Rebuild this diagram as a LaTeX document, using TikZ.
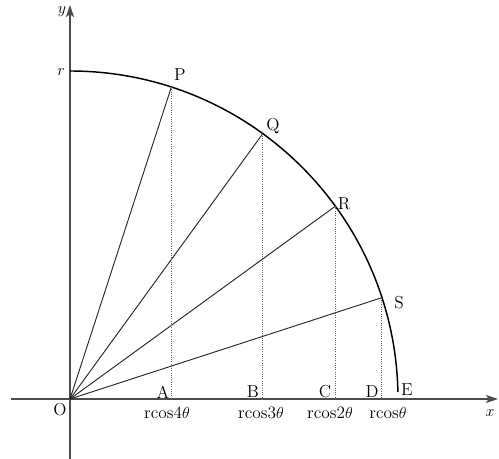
\documentclass[tikz,border=0pt]{standalone}
\usepackage{fontspec}
\usetikzlibrary{arrows.meta}
\begin{document}
\begin{tikzpicture}[x=0.75pt, y=0.75pt, font=\fontsize{13}{15}\selectfont,
    axis/.style={gray!60!black, line width=1pt, -{Stealth[length=9pt, width=6pt, inset=2pt]}},
    ray/.style={gray!30!black, line width=0.7pt},
    drop/.style={gray!80!black, line width=0.7pt, densely dotted},
    lab/.style={inner sep=0pt},
    cosl/.style={inner sep=0pt, font=\fontsize{13}{15}\selectfont\addfontfeature{LetterSpace=6}}]
    \useasboundingbox (-70,-60) rectangle (429,399);
    \coordinate (O) at (0,0);
    \coordinate (xmin) at (-59,0);
    \coordinate (xmax) at (428,0);
    \coordinate (ymin) at (0,-60);
    \coordinate (ymax) at (0,394);
    \coordinate (P) at (72:328);
    \coordinate (Q) at (54:328);
    \coordinate (R) at (36:328);
    \coordinate (S) at (18:328);
    \coordinate (E) at (1.2:328);
    \draw[axis] (xmin) -- (xmax);
    \draw[axis] (ymin) -- (ymax);
    \draw[black, line width=1.1pt] (0,328) arc[start angle=90, end angle=1.2, radius=328];
    \draw[ray] (O) -- (P);
    \draw[ray] (O) -- (Q);
    \draw[ray] (O) -- (R);
    \draw[ray] (O) -- (S);
    \draw[drop] (P) -- (P |- O);
    \draw[drop] (Q) -- (Q |- O);
    \draw[drop] (R) -- (R |- O);
    \draw[drop] (S) -- (S |- O);
    \node[lab] (ylab) at (-8,387) {$y$};
    \node[lab] (xlab) at (420,-14) {$x$};
    \node[lab] (rlab) at (-9,327) {$r$};
    \node[lab] (Olab) at (-10,-11) {O};
    \node[lab] (Plab) at (110,324) {P};
    \node[lab] (Qlab) at (203,273) {Q};
    \node[lab] (Rlab) at (274,195) {R};
    \node[lab] (Slab) at (329,96) {S};
    \node[lab] (Alab) at (93,7) {A};
    \node[lab] (Blab) at (183,7) {B};
    \node[lab] (Clab) at (255,7) {C};
    \node[lab] (Dlab) at (302,7) {D};
    \node[lab] (Elab) at (337,9) {E};
    \node[cosl] (Acos) at (97,-14) {rcos4$\theta$};
    \node[cosl] (Bcos) at (191,-14) {rcos3$\theta$};
    \node[cosl] (Ccos) at (260,-14) {rcos2$\theta$};
    \node[cosl] (Dcos) at (318,-14) {rcos$\theta$};
\end{tikzpicture}
\end{document}
